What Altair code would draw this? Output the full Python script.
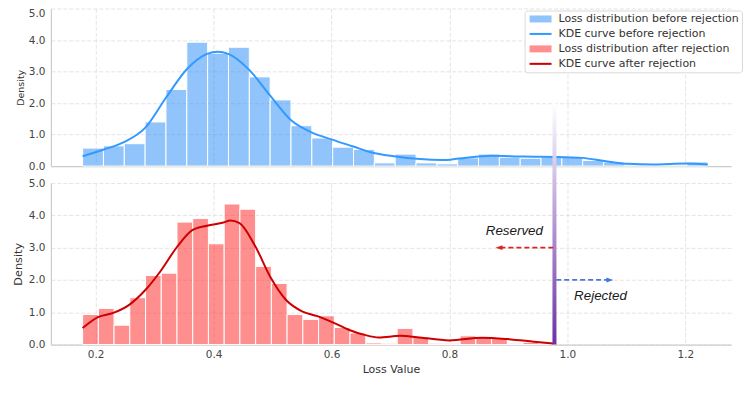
import altair as alt
import pandas as pd

# ---------------- data ----------------
bin_start = 0.178
bin_width_before = 0.03533
bin_width_after = 0.02667

hist_before = [0.57, 0.64, 0.71, 1.40, 2.43, 3.93, 3.58, 3.77, 2.83, 2.10,
               1.28, 0.89, 0.60, 0.53, 0.10, 0.38, 0.10, 0.07, 0.26, 0.38,
               0.28, 0.25, 0.29, 0.29, 0.18, 0.13, 0.03, 0.02, 0.03, 0.13]

hist_after = [0.93, 1.12, 0.60, 1.45, 2.14, 2.21, 3.79, 3.90, 3.12, 4.35,
              4.19, 2.42, 1.89, 0.93, 0.78, 0.89, 0.53, 0.36, 0.05, 0.04,
              0.50, 0.25, 0.04, 0.04, 0.27, 0.22, 0.19, 0.04, 0.07, 0.04]

kde_before_x = [0.178, 0.213, 0.248, 0.284, 0.319, 0.355, 0.389, 0.407, 0.425,
                0.460, 0.495, 0.531, 0.566, 0.601, 0.637, 0.668, 0.706, 0.789,
                0.816, 0.871, 0.926, 0.981, 1.025, 1.063, 1.102, 1.146, 1.200, 1.238]
kde_before_y = [0.31, 0.52, 0.76, 1.21, 2.16, 3.08, 3.56, 3.63, 3.56,
                3.06, 2.26, 1.46, 1.07, 0.84, 0.62, 0.43, 0.31, 0.19,
                0.24, 0.33, 0.30, 0.29, 0.26, 0.16, 0.07, 0.05, 0.08, 0.05]

kde_after_x = [0.178, 0.204, 0.230, 0.257, 0.284, 0.310, 0.338, 0.364, 0.389,
               0.417, 0.428, 0.444, 0.470, 0.497, 0.523, 0.550, 0.576, 0.603,
               0.629, 0.656, 0.680, 0.717, 0.745, 0.800, 0.855, 0.898, 0.943, 0.976]
kde_after_y = [0.51, 0.85, 0.98, 1.23, 1.68, 2.27, 3.02, 3.54, 3.68,
               3.78, 3.84, 3.76, 3.07, 2.07, 1.38, 1.03, 0.88, 0.68,
               0.46, 0.30, 0.22, 0.27, 0.23, 0.13, 0.21, 0.17, 0.09, 0.03]

threshold = 0.978
threshold_top = 7.47          # the divider reaches up into the upper panel

legend_labels = ["Loss distribution before rejection", "KDE curve before rejection",
                 "Loss distribution after rejection", "KDE curve after rejection"]
legend_colors = ["#90c4fa", "#3399ff", "#ff8f8f", "#cc0000"]

arrow_start = [0.976, 0.981]
arrow_end = [0.886, 1.070]
arrow_head = [0.884, 1.072]
arrow_y = [3.0, 2.0]

note_text = ["Reserved", "Rejected"]
note_x = [0.910, 1.056]
note_y = [3.5, 1.5]

x_ticks = [0.2, 0.4, 0.6, 0.8, 1.0, 1.2]
y_ticks = [0.0, 1.0, 2.0, 3.0, 4.0, 5.0]

# ---------------- tables ----------------
hb = pd.DataFrame({
    "x0": [bin_start + i * bin_width_before for i in range(len(hist_before))],
    "x1": [bin_start + (i + 1) * bin_width_before for i in range(len(hist_before))],
    "density": hist_before,
})
ha = pd.DataFrame({
    "x0": [bin_start + i * bin_width_after for i in range(len(hist_after))],
    "x1": [bin_start + (i + 1) * bin_width_after for i in range(len(hist_after))],
    "density": hist_after,
})
kb = pd.DataFrame({"x": kde_before_x, "density": kde_before_y})
ka = pd.DataFrame({"x": kde_after_x, "density": kde_after_y})
thr = pd.DataFrame({"x": [threshold], "y0": [0.0], "y1": [threshold_top]})
leg = pd.DataFrame({"entry": legend_labels})
arrows_red = pd.DataFrame({"x0": [arrow_start[0]], "x1": [arrow_end[0]], "y": [arrow_y[0]], "h": [arrow_head[0]]})
arrows_blue = pd.DataFrame({"x0": [arrow_start[1]], "x1": [arrow_end[1]], "y": [arrow_y[1]], "h": [arrow_head[1]]})
notes = pd.DataFrame({"t": note_text, "x": note_x, "y": note_y})

# ---------------- scales / axes ----------------
W = 682
x_scale = alt.Scale(domain=[0.1242, 1.2774], nice=False, zero=False, padding=0)
y_scale = alt.Scale(domain=[0, 5], nice=False, zero=True, padding=0)

top_x_axis = alt.Axis(values=x_ticks, labels=False, title=None, ticks=False, domain=True,
                      grid=True, tickCount=12)
top_y_axis = alt.Axis(values=y_ticks, tickCount=12, format=".1f", title="Density",
                      titleFontSize=9.5, titlePadding=3, labelOverlap=False,
                      labelBaseline={"condition": {"test": "datum.value >= 5", "value": "top"},
                                     "value": "middle"})
bot_x_axis = alt.Axis(values=x_ticks, tickCount=12, format=".1f", title="Loss Value",
                      titleFontSize=11, titlePadding=3, labelPadding=5, labelOverlap=False)
bot_y_axis = alt.Axis(values=y_ticks, tickCount=12, format=".1f", title="Density",
                      titleFontSize=11.3, titlePadding=5, labelOverlap=False)

# ---------------- top panel ----------------
top_bars = alt.Chart(hb).mark_bar(fill="#2189f5", fillOpacity=0.5, stroke="white",
                                  strokeWidth=1).encode(
    x=alt.X("x0:Q", scale=x_scale, axis=top_x_axis),
    x2="x1:Q",
    y=alt.Y("density:Q", scale=y_scale, axis=top_y_axis),
    y2=alt.datum(0),
)
top_kde = alt.Chart(kb).mark_line(color="#3399ff", strokeWidth=2, interpolate="monotone").encode(
    x="x:Q", y="density:Q")

patch = "M-1,-1H5.286V1H-1Z"
linesym = "M-1,-0.29H5.286V0.29H-1Z"
legend_def = alt.Legend(orient="none", legendX=475, legendY=2, title=None, padding=3,
                        rowPadding=3, labelOffset=20, labelFont="DejaVu Sans",
                        labelFontSize=11, labelColor="#333333", labelLimit=400,
                        strokeColor="#d9d9d9", cornerRadius=3, fillColor="white",
                        symbolSize=49, symbolOpacity=1, symbolStrokeWidth=0,
                        direction="vertical")
top_leg = alt.Chart(leg).mark_point(filled=True, opacity=0).encode(
    color=alt.Color("entry:N", scale=alt.Scale(domain=legend_labels, range=legend_colors),
                    legend=legend_def),
    shape=alt.Shape("entry:N", scale=alt.Scale(domain=legend_labels,
                                               range=[patch, linesym, patch, linesym]),
                    legend=legend_def),
)

top = alt.layer(top_bars, top_kde, top_leg).properties(width=W, height=158)

# ---------------- bottom panel ----------------
bot_bars = alt.Chart(ha).mark_bar(fill="#ff2020", fillOpacity=0.5, stroke="white",
                                  strokeWidth=1).encode(
    x=alt.X("x0:Q", scale=x_scale, axis=bot_x_axis),
    x2="x1:Q",
    y=alt.Y("density:Q", scale=y_scale, axis=bot_y_axis),
    y2=alt.datum(0),
)
bot_kde = alt.Chart(ka).mark_line(color="#cc0000", strokeWidth=2, interpolate="monotone").encode(
    x="x:Q", y="density:Q")

grad = alt.LinearGradient(gradient="linear",
                          stops=[alt.GradientStop(color="#ffffff", offset=0),
                                 alt.GradientStop(color="#6a30a8", offset=1)],
                          x1=0, x2=0, y1=0, y2=1)
divider = alt.Chart(thr).mark_bar(size=4, orient="vertical", fill=grad, stroke=None).encode(
    x="x:Q", y="y0:Q", y2="y1:Q")

red_line = alt.Chart(arrows_red).mark_rule(color="#dd2222", strokeWidth=1.8,
                                           strokeDash=[5, 3]).encode(x="x0:Q", x2="x1:Q", y="y:Q")
red_head = alt.Chart(arrows_red).mark_point(shape="M-1,0L1,-0.7L1,0.7Z", filled=True,
                                            color="#dd2222", opacity=1, size=49).encode(
    x="h:Q", y="y:Q")
blue_line = alt.Chart(arrows_blue).mark_rule(color="#4a78d8", strokeWidth=1.8,
                                             strokeDash=[5, 3]).encode(x="x0:Q", x2="x1:Q", y="y:Q")
blue_head = alt.Chart(arrows_blue).mark_point(shape="M1,0L-1,-0.7L-1,0.7Z", filled=True,
                                              color="#4a78d8", opacity=1, size=49).encode(
    x="h:Q", y="y:Q")
note_marks = alt.Chart(notes).mark_text(font="Liberation Sans", fontStyle="italic",
                                        fontSize=13.4, color="#1a1a1a", align="center",
                                        baseline="middle").encode(x="x:Q", y="y:Q", text="t:N")

bottom = alt.layer(bot_bars, bot_kde, divider, red_line, red_head, blue_line, blue_head,
                   note_marks).properties(width=W, height=162)

chart = alt.vconcat(top, bottom, spacing=17, bounds="flush").properties(
    padding={"left": 4, "top": 0, "right": 0, "bottom": 0}
).configure_axis(
    labelFont="DejaVu Sans", labelFontSize=10.5, labelColor="#444444",
    titleFont="DejaVu Sans", titleColor="#333333", titleFontWeight="normal",
    gridColor="#dddddd", gridDash=[4, 2], gridWidth=0.8,
    domainColor="#cccccc", domainWidth=1.2, ticks=False, tickSize=0, labelPadding=6,
    labelOverlap=False,
).configure_view(stroke=None).configure_legend(
    symbolStrokeWidth=0, labelFont="DejaVu Sans", labelFontSize=11, labelColor="#333333",
    labelLimit=400,
)

chart.save("out.html", embed_options={"renderer": "svg", "actions": False})
